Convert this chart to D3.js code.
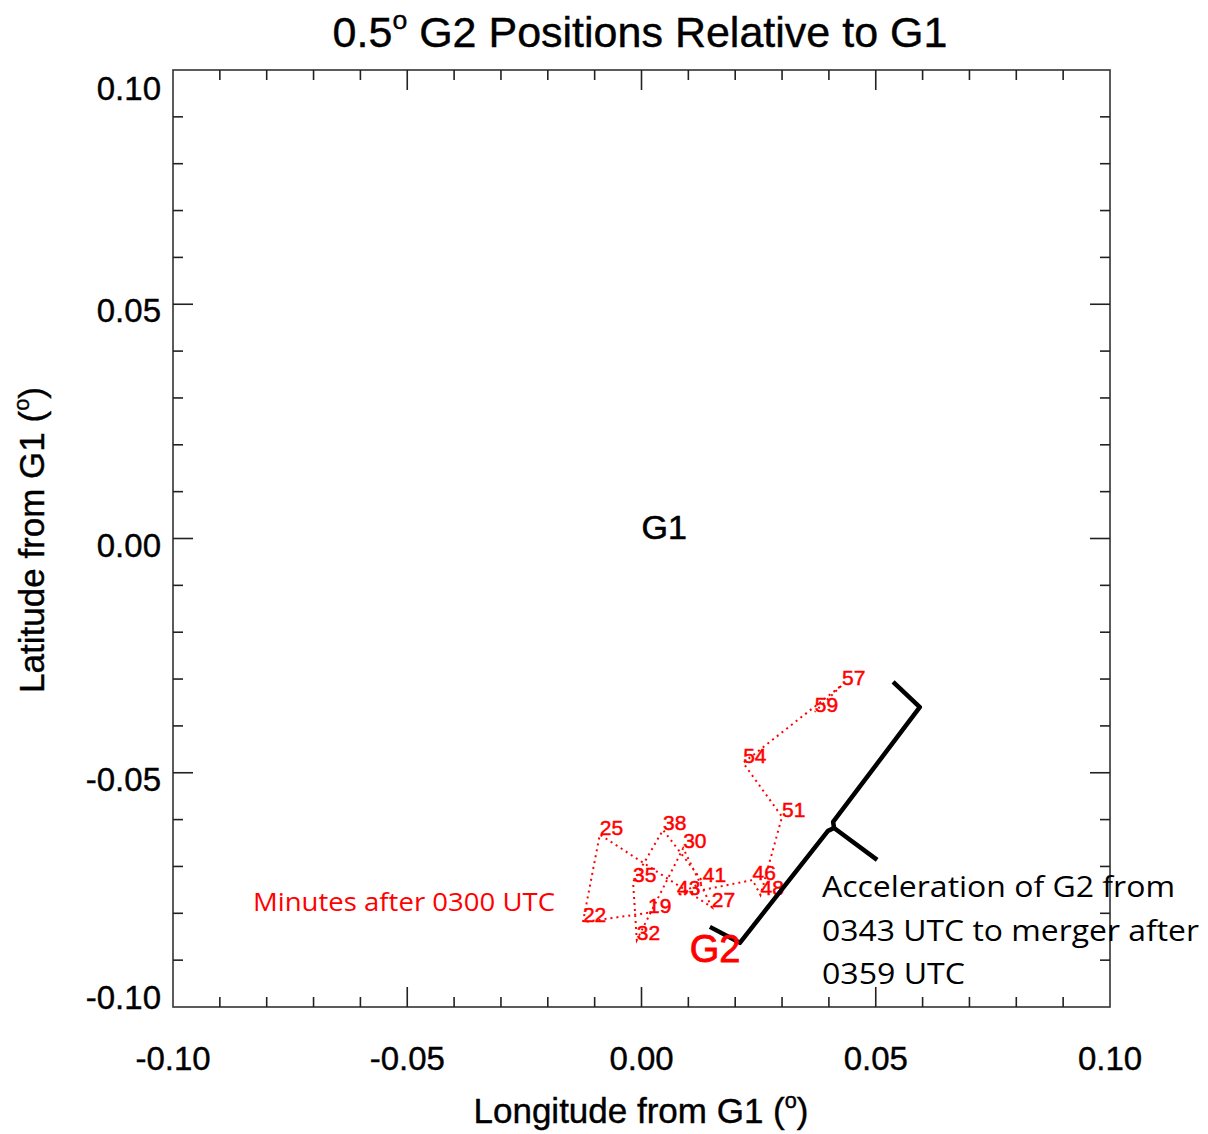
<!DOCTYPE html>
<html>
<head>
<meta charset="utf-8">
<script src="https://cdn.jsdelivr.net/npm/d3@7"></script>
<style>
  body { margin: 0; background: #fff; }
  text { font-family: "Liberation Sans", Arial, sans-serif; }
</style>
</head>
<body>
<svg width="1208" height="1134"></svg>
<script>
let svg = d3.select("svg"),
 width = +svg.attr("width"),
 height = +svg.attr("height");

// minutes after 0300 UTC, in time order
let minutes = ["19", "22", "25", "27", "30", "32", "35", "38", "41", "43", "46", "48", "51", "54", "57", "59"];
let lon = [0.0014, -0.0125, -0.0089, 0.0150, 0.0089, -0.0010, -0.0018, 0.0046, 0.0131, 0.0076, 0.0237, 0.0254, 0.0300, 0.0217, 0.0428, 0.0370];
let lat = [-0.0799, -0.0819, -0.0632, -0.0787, -0.0661, -0.0857, -0.0733, -0.0622, -0.0733, -0.0761, -0.0729, -0.0761, -0.0594, -0.0479, -0.0313, -0.0370];

// brace marking the acceleration of G2
let braceLower = [[0.0146, -0.0829], [0.0210, -0.0863], [0.0398, -0.0624], [0.0411, -0.0618], [0.0503, -0.0686]];
let braceUpper = [[0.0411, -0.0618], [0.0409, -0.0605], [0.0594, -0.0360], [0.0537, -0.0306]];

let majorTicks = [-0.10, -0.05, 0.00, 0.05, 0.10];
let minorTicks = d3.range(-10, 11).map(function(i) { return i / 100; });

let margin = {left: 173, top: 70, right: 98, bottom: 127};
let plotW = width - margin.left - margin.right,
 plotH = height - margin.top - margin.bottom;

let x = d3.scaleLinear().domain([-0.1, 0.1]).range([margin.left, margin.left + plotW]);
let y = d3.scaleLinear().domain([-0.1, 0.1]).range([margin.top + plotH, margin.top]);

// plain hyphen for negatives, like the original
let fmt = function(d) { return d3.format(".2f")(d).replace("\u2212", "-"); };

// frame
svg.append("rect")
    .attr("x", x(-0.1)).attr("y", y(0.1))
    .attr("width", plotW).attr("height", plotH)
    .attr("fill", "none").attr("stroke", "#333").attr("stroke-width", 1.6);

// inward ticks on all four sides
function tickLen(v) {
    return majorTicks.some(function(m) { return Math.abs(m - v) < 1e-9; }) ? 20 : 10;
}
let ticks = svg.append("g").attr("stroke", "#222").attr("stroke-width", 1.6);
minorTicks.slice(1, -1).forEach(function(v) {
    let L = tickLen(v);
    ticks.append("line").attr("x1", x(v)).attr("x2", x(v)).attr("y1", y(-0.1)).attr("y2", y(-0.1) - L);
    ticks.append("line").attr("x1", x(v)).attr("x2", x(v)).attr("y1", y(0.1)).attr("y2", y(0.1) + L);
    ticks.append("line").attr("y1", y(v)).attr("y2", y(v)).attr("x1", x(-0.1)).attr("x2", x(-0.1) + L);
    ticks.append("line").attr("y1", y(v)).attr("y2", y(v)).attr("x1", x(0.1)).attr("x2", x(0.1) - L);
});

// tick labels
svg.append("g").selectAll("text")
    .data(majorTicks).enter().append("text")
    .attr("x", function(d) { return x(d); })
    .attr("y", y(-0.1) + 63)
    .attr("text-anchor", "middle")
    .attr("font-size", 33)
    .attr("stroke", "#000").attr("stroke-width", 0.4)
    .text(fmt);

// left labels are kept inside the frame at the two ends
svg.append("g").selectAll("text")
    .data(majorTicks).enter().append("text")
    .attr("x", x(-0.1) - 12)
    .attr("y", function(d) {
        let c = Math.max(y(0.1) + 18, Math.min(y(-0.1) - 10, y(d) + 6));
        return c + 12;
    })
    .attr("text-anchor", "end")
    .attr("font-size", 33)
    .attr("stroke", "#000").attr("stroke-width", 0.4)
    .text(fmt);

// title and axis titles
function degTitle(sel, before, after, size) {
    sel.append("tspan").text(before);
    sel.append("tspan").attr("dy", -size * 0.42).attr("font-size", size * 0.62).text("o");
    sel.append("tspan").attr("dy", size * 0.42).text(after);
}

let title = svg.append("text")
    .attr("x", 640).attr("y", 47)
    .attr("text-anchor", "middle")
    .attr("font-size", 43)
    .attr("stroke", "#000").attr("stroke-width", 0.4);
degTitle(title, "0.5", " G2 Positions Relative to G1", 43);

let xTitle = svg.append("text")
    .attr("x", 641).attr("y", 1123)
    .attr("text-anchor", "middle")
    .attr("font-size", 35)
    .attr("stroke", "#000").attr("stroke-width", 0.4);
degTitle(xTitle, "Longitude from G1 (", ")", 35);

let yTitle = svg.append("text")
    .attr("transform", "translate(44,540) rotate(-90)")
    .attr("text-anchor", "middle")
    .attr("font-size", 35)
    .attr("stroke", "#000").attr("stroke-width", 0.4);
degTitle(yTitle, "Latitude from G1 (", ")", 35);

// G2 track
let track = minutes.map(function(m, i) { return {m: m, lon: lon[i], lat: lat[i]}; });

svg.append("path")
    .datum(track)
    .attr("fill", "none")
    .attr("stroke", "#ff0000")
    .attr("stroke-width", 2)
    .attr("stroke-dasharray", "2,4")
    .attr("d", d3.line().x(function(d) { return x(d.lon); }).y(function(d) { return y(d.lat); }));

svg.append("g").selectAll("text")
    .data(track).enter().append("text")
    .attr("x", function(d) { return x(d.lon); })
    .attr("y", function(d) { return y(d.lat); })
    .attr("fill", "#ff0000")
    .attr("stroke", "#ff0000").attr("stroke-width", 0.5)
    .attr("font-size", 21)
    .text(function(d) { return d.m; });

// brace
let braceLine = d3.line().x(function(d) { return x(d[0]); }).y(function(d) { return y(d[1]); });
[braceLower, braceUpper].forEach(function(b) {
    svg.append("path")
        .attr("d", braceLine(b))
        .attr("fill", "none")
        .attr("stroke", "#000")
        .attr("stroke-width", 4.5)
        .attr("stroke-linejoin", "round");
});

// labels
svg.append("text")
    .attr("x", x(0)).attr("y", y(0))
    .attr("font-size", 34)
    .attr("stroke", "#000").attr("stroke-width", 0.6)
    .text("G1");

svg.append("text")
    .attr("x", x(0.0103)).attr("y", y(-0.0903))
    .attr("fill", "#ff0000")
    .attr("stroke", "#ff0000").attr("stroke-width", 0.8)
    .attr("font-size", 38)
    .text("G2");

svg.append("text")
    .attr("x", 253).attr("y", 911)
    .attr("fill", "#ff0000")
    .attr("font-size", 26)
    .attr("textLength", 302)
    .attr("lengthAdjust", "spacingAndGlyphs")
    .style("font-family", "'Open Sans', sans-serif")
    .text("Minutes after 0300 UTC");

let note = ["Acceleration of G2 from", "0343 UTC to merger after", "0359 UTC"];
let noteLen = [353, 377, 143];
svg.append("g").selectAll("text")
    .data(note).enter().append("text")
    .attr("x", 822)
    .attr("y", function(d, i) { return 897 + i * 43.5; })
    .attr("font-size", 29)
    .attr("textLength", function(d, i) { return noteLen[i]; })
    .attr("lengthAdjust", "spacingAndGlyphs")
    .style("font-family", "'Open Sans', sans-serif")
    .text(function(d) { return d; });
</script>
</body>
</html>
